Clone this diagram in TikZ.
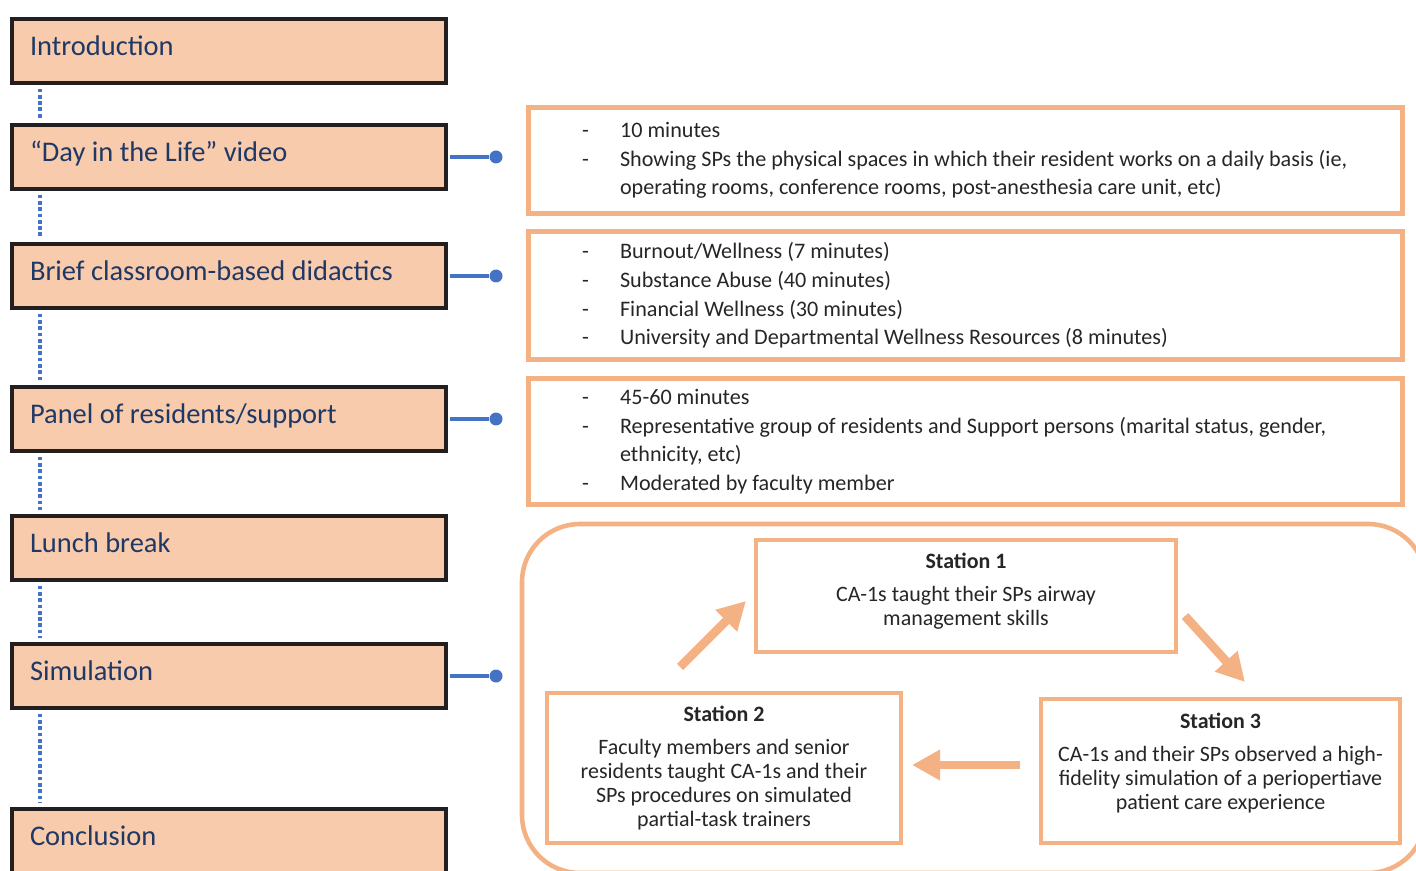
\documentclass[tikz,border=0pt]{standalone}
\usepackage{fontspec}
\setmainfont{Carlito}
\usepackage{xcolor}
\usetikzlibrary{arrows.meta,positioning,calc}

\definecolor{peach}{HTML}{F8CBAD}
\definecolor{orangeline}{HTML}{F4B183}
\definecolor{linkblue}{HTML}{4472C4}
\definecolor{navytext}{HTML}{1F3864}
\definecolor{boxline}{HTML}{231F20}
\definecolor{bodytext}{HTML}{262626}

\newcommand{\itm}[1]{\mbox{\makebox[0.76cm][l]{-}#1}}
\newcommand{\cont}[1]{\mbox{\hspace*{0.76cm}#1}}

\begin{document}
\begin{tikzpicture}[
    x=0.02cm, y=-0.02cm,
    stage/.style={draw=boxline,line width=2.3pt,fill=peach,minimum width=8.68cm,minimum height=1.28cm,text width=7.96cm,text height=0.42cm,text depth=0.24cm,inner xsep=0.36cm,align=flush left,text=navytext,font=\fontsize{16.2}{19}\selectfont},
    info/.style={draw=orangeline,line width=2.6pt,fill=white,minimum width=17.48cm,text width=15.34cm,align=flush left,text=bodytext,font=\fontsize{12.6}{16.3}\selectfont},
    station/.style={draw=orangeline,line width=2.6pt,fill=white},
    stationtxt/.style={align=center,text=bodytext,font=\fontsize{12.5}{13.6}\selectfont},
    link/.style={draw=linkblue,line width=2.2pt,shorten <=1.15pt},
    dot/.style={circle,fill=linkblue,inner sep=0pt,minimum size=0.26cm},
    timeline/.style={draw=linkblue,line width=2.3pt,dash pattern=on 2.1pt off 1.5pt,shorten <=2pt,shorten >=2pt},
    flow/.style={draw=orangeline,line width=5pt,-{Triangle[length=16pt,width=16.5pt]}}
  ]
    \useasboundingbox (0,0) rectangle (1416,871);
    \clip (0,0) rectangle (1416,871);

    % agenda
    \node[stage] (intro) at (229,51) {Introduction};
    \node[stage] (day) at (229,157) {“Day in the Life” video};
    \node[stage] (brief) at (229,276) {Brief classroom-based didactics};
    \node[stage] (panel) at (229,419) {Panel of residents/support};
    \node[stage] (lunch) at (229,548) {Lunch break};
    \node[stage] (sim) at (229,676) {Simulation};
    \node[stage] (concl) at (229,841) {Conclusion};

    \foreach \a/\b in {intro/day,day/brief,brief/panel,panel/lunch,lunch/sim,sim/concl}
      \draw[timeline] ([xshift=0.6cm]\a.south west) -- ([xshift=0.6cm]\b.north west);

    \node[dot] (dayDot) at (496,157) {};
    \node[dot] (briefDot) at (496,276) {};
    \node[dot] (panelDot) at (496,419) {};
    \node[dot] (simDot) at (496,676) {};
    \draw[link] (day.east) -- (dayDot);
    \draw[link] (brief.east) -- (briefDot);
    \draw[link] (panel.east) -- (panelDot);
    \draw[link] (sim.east) -- (simDot);

    % details
    \node[info,minimum height=2.12cm] (info1) at (965.5,160.5) {\itm{10 minutes}\\
      \itm{Showing SPs the physical spaces in which their resident works on a daily basis (ie,}\\
      \cont{operating rooms, conference rooms, post-anesthesia care unit, etc)}};
    \node[info,minimum height=2.56cm] (info2) at (965.5,295.5) {\itm{Burnout/Wellness (7 minutes)}\\
      \itm{Substance Abuse (40 minutes)}\\
      \itm{Financial Wellness (30 minutes)}\\
      \itm{University and Departmental Wellness Resources (8 minutes)}};
    \node[info,minimum height=2.52cm] (info3) at (965.5,441.5) {\itm{45-60 minutes}\\
      \itm{Representative group of residents and Support persons (marital status, gender,}\\
      \cont{ethnicity, etc)}\\
      \itm{Moderated by faculty member}};

    % simulation stations
    \draw[orangeline,line width=2.6pt,rounded corners=1.16cm] (522,524) rectangle (1426,873);
    \node[station,minimum width=8.4cm,minimum height=2.24cm] (s1) at (966,596) {};
    \node[station,minimum width=7.08cm,minimum height=3cm] (s2) at (724,768) {};
    \node[station,minimum width=7.18cm,minimum height=2.88cm] (s3) at (1220.5,771) {};
    \node[stationtxt] at ($(s1)+(0,-5)$)
      {{\bfseries Station 1}\\[5pt]CA-1s taught their SPs airway\\management skills};
    \node[stationtxt] at (s2)
      {{\bfseries Station 2}\\[5pt]Faculty members and senior\\residents taught CA-1s and their\\SPs procedures on simulated\\partial-task trainers};
    \node[stationtxt] at ($(s3)+(0,-8)$)
      {{\bfseries Station 3}\\[5pt]CA-1s and their SPs observed a high-\\fidelity simulation of a periopertiave\\patient care experience};

    \coordinate (a1s) at (680,667);
    \coordinate (a1e) at (746,601);
    \coordinate (a2s) at (1185,616);
    \coordinate (a2e) at (1245,682);
    \coordinate (a3s) at (1020,765);
    \coordinate (a3e) at (912,765);
    \draw[flow] (a1s) -- (a1e);
    \draw[flow] (a2s) -- (a2e);
    \draw[flow] (a3s) -- (a3e);
  \end{tikzpicture}
\end{document}
